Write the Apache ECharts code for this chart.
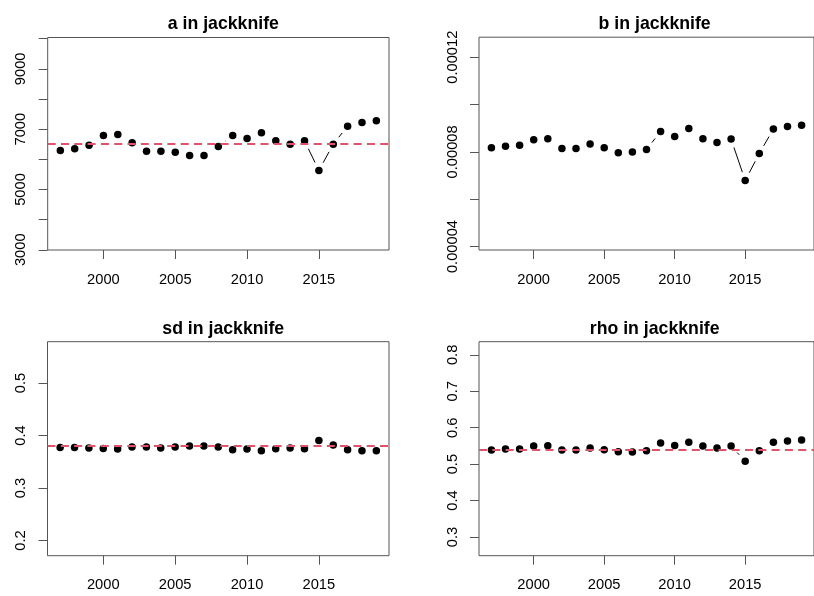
<!DOCTYPE html>
<html>
<head>
<meta charset="utf-8">
<script src="https://cdn.jsdelivr.net/npm/echarts@6/dist/echarts.min.js"></script>
<style>
html,body{margin:0;padding:0;background:#fff;}
#chart{width:814px;height:596px;}
</style>
</head>
<body>
<div id="chart"></div>
<script>
// ---------- data ----------
const years = [1997,1998,1999,2000,2001,2002,2003,2004,2005,2006,2007,2008,2009,2010,2011,2012,2013,2014,2015,2016,2017,2018,2019];
const aVals = [6293,6347,6469,6790,6824,6546,6270,6270,6237,6127,6127,6426,6790,6691,6878,6613,6502,6613,5630,6502,7100,7221,7276];
const bVals = [8.17e-5,8.24e-5,8.28e-5,8.51e-5,8.55e-5,8.14e-5,8.14e-5,8.33e-5,8.17e-5,7.96e-5,7.99e-5,8.10e-5,8.86e-5,8.65e-5,8.99e-5,8.55e-5,8.40e-5,8.54e-5,6.79e-5,7.93e-5,8.97e-5,9.07e-5,9.13e-5];
const sdVals = [0.3775,0.3775,0.3762,0.3756,0.3743,0.3781,0.3781,0.3762,0.3781,0.3800,0.3800,0.3781,0.3730,0.3743,0.3710,0.3749,0.3762,0.3749,0.3908,0.3819,0.3730,0.3710,0.3710];
const rhoVals = [0.5385,0.5412,0.5412,0.5495,0.5503,0.5385,0.5385,0.5440,0.5394,0.5338,0.5330,0.5366,0.5577,0.5513,0.5604,0.5495,0.5440,0.5495,0.5082,0.5366,0.5604,0.5632,0.5660];
const refValues = [6526, 8.35e-5, 0.3756, 0.5431];
const titles = ['a in jackknife','b in jackknife','sd in jackknife','rho in jackknife'];
const xTicks = [2000,2005,2010,2015];
const aTicks = [3000,4000,5000,6000,7000,8000,9000,10000];
const aLabels = [3000,5000,7000,9000];
const bTicks = [0.00004,0.00006,0.00008,0.00010,0.00012];
const bLabels = [0.00004,0.00008,0.00012];
const sdTicks = [0.2,0.3,0.4,0.5];
const rhoTicks = [0.3,0.4,0.5,0.6,0.7,0.8];

// ---------- layout / style ----------
const FONT = 'Liberation Sans, Arial, Helvetica, sans-serif';
const GAP = 8.8;
const panels = [
  {vals:aVals,   ticks:aTicks,   labels:aLabels,  ymin:2992,   ymax:10040,   grid:{left:47.7, top:37.5, width:341.3, height:212.5}},
  {vals:bVals,   ticks:bTicks,   labels:bLabels,  ymin:3.855e-5, ymax:12.845e-5, grid:{left:479, top:37.2, width:341.3, height:212.8}},
  {vals:sdVals,  ticks:sdTicks,  labels:sdTicks,  ymin:0.1712, ymax:0.5788,  grid:{left:47.5, top:341.7, width:341.5, height:214}},
  {vals:rhoVals, ticks:rhoTicks, labels:rhoTicks, ymin:0.2485, ymax:0.8362,  grid:{left:479, top:341.7, width:341.3, height:214}}
];

const grids=[], xAxes=[], yAxes=[], series=[], titleArr=[];
panels.forEach((p,k)=>{
  grids.push(Object.assign({show:true, borderColor:'#555', borderWidth:1, backgroundColor:'transparent', containLabel:false}, p.grid));
  titleArr.push({
    text: titles[k], left: p.grid.left + p.grid.width/2, top: p.grid.top - 27,
    textAlign:'center',
    textStyle:{fontFamily:FONT, fontSize:17.7, fontWeight:'bold', color:'#000'}
  });
  xAxes.push({
    type:'value', gridIndex:k, min:1996.12, max:2019.88,
    axisLine:{show:false}, splitLine:{show:false},
    axisTick:{show:true, length:9, inside:false, customValues:xTicks, lineStyle:{color:'#555', width:1}},
    axisLabel:{show:true, customValues:xTicks, margin:22, fontFamily:FONT, fontSize:14.7, color:'#000', formatter:v=>String(v)}
  });
  yAxes.push({
    type:'value', gridIndex:k, min:p.ymin, max:p.ymax,
    axisLine:{show:false}, splitLine:{show:false},
    axisTick:{show:true, length:9, inside:false, customValues:p.ticks, lineStyle:{color:'#555', width:1}},
    axisLabel:{show:true, customValues:p.labels, rotate:90, margin:19, fontFamily:FONT, fontSize:14.7, color:'#000', formatter:v=>String(v)}
  });
  const pts = years.map((y,i)=>[y, p.vals[i]]);
  const segs = [];
  for (let i=0;i<years.length-1;i++) segs.push([years[i], p.vals[i], years[i+1], p.vals[i+1]]);
  series.push({
    type:'custom', xAxisIndex:k, yAxisIndex:k, silent:true, z:2,
    dimensions:['x0','y0','x1','y1'],
    encode:{x:[0,2], y:[1,3]},
    data: segs,
    renderItem:function(params, api){
      const p0 = api.coord([api.value(0), api.value(1)]);
      const p1 = api.coord([api.value(2), api.value(3)]);
      const dx=p1[0]-p0[0], dy=p1[1]-p0[1];
      const L=Math.hypot(dx,dy);
      if (L <= 2*GAP) return {type:'group', children:[]};
      const ux=dx/L, uy=dy/L;
      return {type:'line', shape:{x1:p0[0]+ux*GAP, y1:p0[1]+uy*GAP, x2:p1[0]-ux*GAP, y2:p1[1]-uy*GAP},
              style:{stroke:'#000', lineWidth:1}};
    }
  });
  series.push({
    type:'scatter', xAxisIndex:k, yAxisIndex:k, data:pts, symbol:'circle', symbolSize:7.5,
    itemStyle:{color:'#000', opacity:1}, silent:true, z:3
  });
  series.push({
    type:'line', xAxisIndex:k, yAxisIndex:k, data:[], silent:true, z:4,
    markLine:{
      silent:true, symbol:['none','none'], animation:false,
      label:{show:false},
      lineStyle:{color:'#DF536B', width:2, type:[8,5.3], opacity:1},
      data:[{yAxis: refValues[k]}]
    }
  });
});

const chart = echarts.init(document.getElementById('chart'), null, {renderer:'canvas'});
chart.setOption({
  animation:false,
  backgroundColor:'#fff',
  title:titleArr,
  grid:grids,
  xAxis:xAxes,
  yAxis:yAxes,
  series:series
});
</script>
</body>
</html>
